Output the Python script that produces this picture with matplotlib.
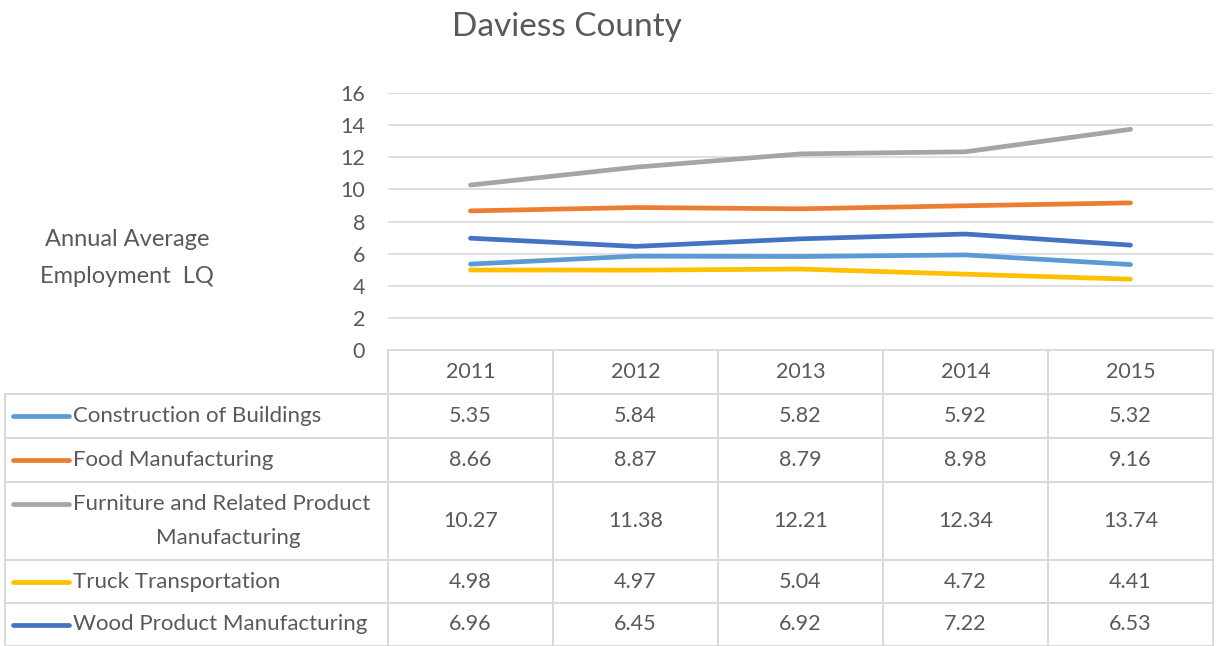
import matplotlib
matplotlib.use("Agg")
import matplotlib.pyplot as plt

years = ["2011", "2012", "2013", "2014", "2015"]
series_names = [
    "Construction of Buildings",
    "Food Manufacturing",
    "Furniture and Related Product\nManufacturing",
    "Truck Transportation",
    "Wood Product Manufacturing",
]
construction = [5.35, 5.84, 5.82, 5.92, 5.32]
food = [8.66, 8.87, 8.79, 8.98, 9.16]
furniture = [10.27, 11.38, 12.21, 12.34, 13.74]
truck = [4.98, 4.97, 5.04, 4.72, 4.41]
wood = [6.96, 6.45, 6.92, 7.22, 6.53]
series_values = [construction, food, furniture, truck, wood]
colors = ["#5B9BD5", "#ED7D31", "#A5A5A5", "#FFC000", "#4472C4"]
yticks = [0, 2, 4, 6, 8, 10, 12, 14, 16]

plt.rcParams['font.family'] = ['Lato', 'DejaVu Sans']
TXT = "#595959"
GRID = "#D9D9D9"
FS = 15.5

W, H = 1218, 646
fig = plt.figure(figsize=(W / 100, H / 100), dpi=100)

# pixel geometry
px_left, px_right = 388, 1213
px_top, px_bottom = 93, 350
ax = fig.add_axes([px_left / W, 1 - px_bottom / H, (px_right - px_left) / W, (px_bottom - px_top) / H])
ax.set_ylim(0, 16)
ax.set_xlim(-0.5, len(years) - 0.5)
for v in yticks:
    ax.axhline(v, color=GRID, lw=1.2, zorder=0)
x = list(range(len(years)))
for vals, c in zip(series_values, colors):
    ax.plot(x, vals, color=c, lw=3.4, solid_capstyle='round', zorder=3)
ax.set_yticks(yticks)
ax.set_yticklabels([str(v) for v in yticks], color=TXT, fontsize=FS)
ax.tick_params(axis='y', length=0, pad=16.5)
ax.set_xticks([])
for s in ax.spines.values():
    s.set_visible(False)

fig.text(567 / W, 1 - 27 / H, "Daviess County", ha='center', va='center', fontsize=24, color=TXT)
fig.text(127 / W, 1 - 258 / H, "Annual Average\nEmployment  LQ", ha='center', va='center',
         fontsize=17, color=TXT, linespacing=1.9)

# overlay for the data table in pixel coords
ov = fig.add_axes([0, 0, 1, 1], zorder=-1)
ov.set_xlim(0, W)
ov.set_ylim(H, 0)
ov.axis('off')

col_edges = [388, 553, 718, 883, 1048, 1213]
row_edges = [350, 394, 438, 482, 560, 603, 646]
tl = dict(color=GRID, lw=1.4)
ov.plot([388, 1213], [350, 350], **tl)
for xe in col_edges:
    ov.plot([xe, xe], [350, 646], **tl)
for ye in row_edges[1:]:
    ov.plot([5, 1213], [ye, ye], **tl)
ov.plot([5, 5], [394, 646], **tl)

for j, yr in enumerate(years):
    cx = (col_edges[j] + col_edges[j + 1]) / 2
    ov.text(cx, (row_edges[0] + row_edges[1]) / 2, yr, ha='center', va='center', fontsize=FS, color=TXT)

for i, (name, vals, c) in enumerate(zip(series_names, series_values, colors)):
    y0, y1 = row_edges[i + 1], row_edges[i + 2]
    cy = (y0 + y1) / 2
    lines = name.split("\n")
    if len(lines) == 1:
        ly = cy
    else:
        ly = cy - 17
    ov.plot([13, 69], [ly, ly], color=c, lw=3.4, solid_capstyle='round')
    ov.text(73, ly, lines[0], ha='left', va='center', fontsize=16, color=TXT)
    if len(lines) > 1:
        ov.text(228, cy + 17, lines[1], ha='center', va='center', fontsize=16, color=TXT)
    for j, v in enumerate(vals):
        cx = (col_edges[j] + col_edges[j + 1]) / 2
        ov.text(cx, cy, f"{v:.2f}", ha='center', va='center', fontsize=FS, color=TXT)

fig.savefig("out.png", dpi=100, facecolor='white')
